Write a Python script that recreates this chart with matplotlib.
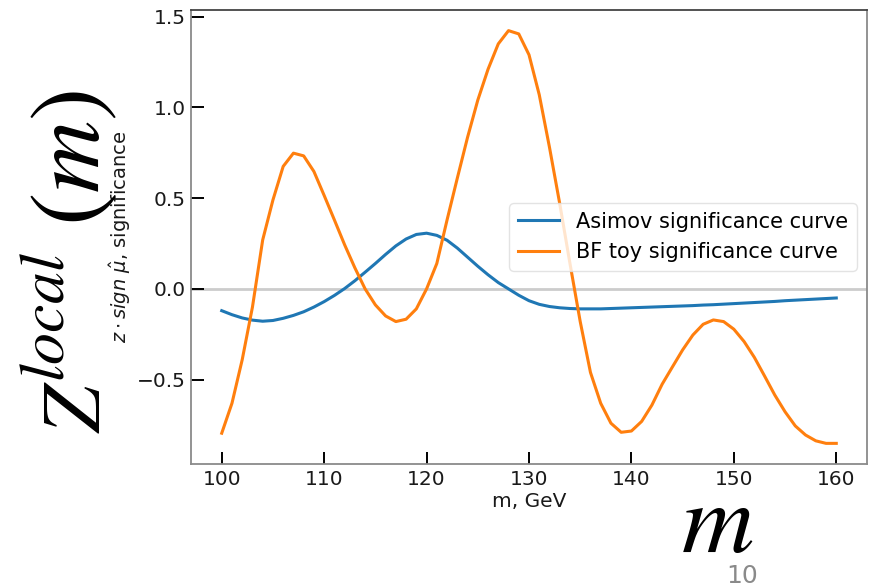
import matplotlib
matplotlib.use("Agg")
import matplotlib.pyplot as plt

mass = list(range(100, 161))

asimov = [-0.120, -0.142, -0.160, -0.172, -0.178, -0.174, -0.162, -0.146, -0.126, -0.100,
          -0.070, -0.036, 0.002, 0.045, 0.092, 0.140, 0.190, 0.237, 0.275, 0.300,
          0.307, 0.295, 0.268, 0.225, 0.175, 0.125, 0.078, 0.035, 0.000, -0.035,
          -0.065, -0.085, -0.097, -0.104, -0.108, -0.110, -0.110, -0.110, -0.108, -0.106,
          -0.104, -0.102, -0.100, -0.098, -0.096, -0.094, -0.092, -0.089, -0.087, -0.084,
          -0.081, -0.078, -0.075, -0.072, -0.069, -0.065, -0.062, -0.059, -0.056, -0.053,
          -0.050]

bf_toy = [-0.795, -0.630, -0.390, -0.100, 0.270, 0.490, 0.675, 0.748, 0.733, 0.647,
          0.515, 0.380, 0.243, 0.116, 0.000, -0.088, -0.149, -0.180, -0.167, -0.110,
          0.000, 0.140, 0.380, 0.610, 0.835, 1.040, 1.210, 1.350, 1.423, 1.405,
          1.290, 1.070, 0.780, 0.470, 0.140, -0.180, -0.460, -0.630, -0.740, -0.790,
          -0.783, -0.730, -0.640, -0.525, -0.430, -0.336, -0.254, -0.195, -0.171, -0.180,
          -0.222, -0.290, -0.377, -0.480, -0.585, -0.677, -0.755, -0.805, -0.837, -0.851,
          -0.851]

series_labels = ["Asimov significance curve", "BF toy significance curve"]
x_ticks = [100, 110, 120, 130, 140, 150, 160]
y_ticks = [-0.5, 0.0, 0.5, 1.0, 1.5]

W, H = 876, 587
fig = plt.figure(figsize=(W / 100, H / 100), dpi=100)
ax = fig.add_axes([191 / W, (H - 464) / H, (867 - 191) / W, (464 - 10) / H])

ax.axhline(0, color="#cccccc", lw=2.0, zorder=1)
ax.plot(mass, asimov, color="#1f77b4", lw=2.2, label=series_labels[0], zorder=3)
ax.plot(mass, bf_toy, color="#ff7f0e", lw=2.2, label=series_labels[1], zorder=3)

ax.set_xticks(x_ticks)
ax.set_yticks(y_ticks)
ax.tick_params(direction="in", length=9, width=1.4, labelsize=14.5, color="black",
               labelcolor="#1a1a1a", pad=4)
for side in ["left", "bottom", "right"]:
    ax.spines[side].set_color("#8a8a8a")
    ax.spines[side].set_linewidth(1.3)
ax.spines["top"].set_color("#444444")
ax.spines["top"].set_linewidth(1.3)

ax.set_xlabel("m, GeV", fontsize=14.5, color="#1a1a1a")
ax.set_ylabel(r"$z \cdot sign\ \hat{\mu}$, significance", fontsize=14, color="#1a1a1a")
ax.xaxis.set_label_coords(0.5, -0.062)
ax.yaxis.set_label_coords(-0.086, 0.5)

leg = ax.legend(loc="center right", fontsize=15, frameon=True, fancybox=True)
leg.get_frame().set_edgecolor("#dddddd")

def px(x, y):
    return x / W, (H - y) / H

big = dict(rotation=90, rotation_mode="anchor", ha="left", va="baseline",
           math_fontfamily="stix", color="black")
fig.text(*px(100, 433), r"$Z$", fontsize=60, **big)
fig.text(*px(63, 382), r"$local$", fontsize=46, **big)
fig.text(*px(99, 226), r"$(m)$", fontsize=72, **big)
fig.text(*px(717, 552), r"$m$", ha="center", va="baseline",
         fontsize=72, math_fontfamily="stix", color="black")
fig.text(*px(742, 583), "10", ha="center", va="baseline",
         fontsize=18, color="#8a8a8a")

fig.savefig("out.png", dpi=100)
